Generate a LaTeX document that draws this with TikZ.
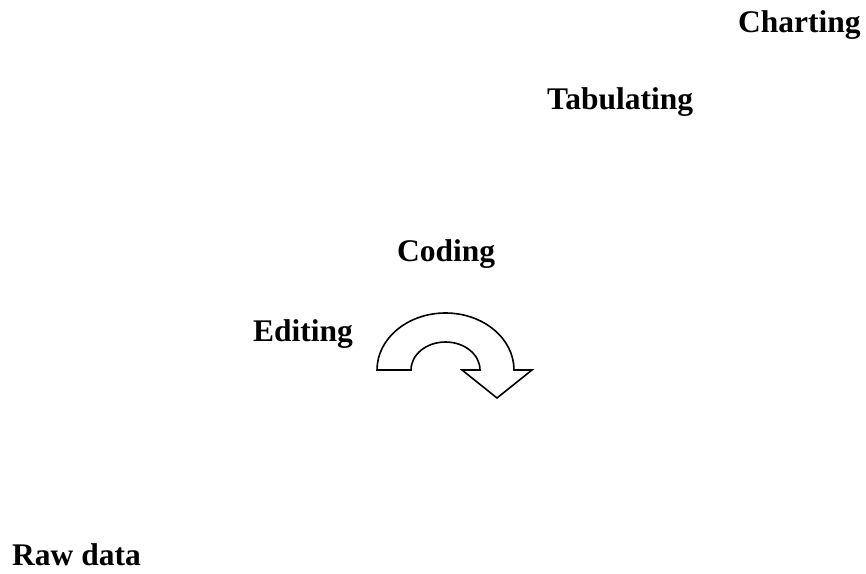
\documentclass[tikz,border=0pt]{standalone}
\usepackage{fontspec}
\setmainfont{Liberation Serif}
\begin{document}
\begin{tikzpicture}[
  lbl/.style={anchor=base west, inner sep=0pt, font=\fontsize{31.5}{36}\selectfont\bfseries},
  turnarrow/.style={draw=black, fill=white, line width=1.6pt, line join=miter}
]
\useasboundingbox (0,0) rectangle (866pt,573pt);
\node[lbl] (charting) at (738pt,540pt) {Charting};
\node[lbl] (tabulating) at (547pt,463pt) {Tabulating};
\node[lbl] (coding) at (397pt,311pt) {Coding};
\node[lbl] (editing) at (253pt,231pt) {Editing};
\node[lbl] (raw) at (12pt,8pt) {Raw data};
\draw[turnarrow] (377pt,203pt) arc[start angle=180, end angle=0, x radius=68.5pt, y radius=57pt]
  -- (532pt,203pt) -- (497pt,175pt) -- (462pt,203pt) -- (480pt,203pt)
  arc[start angle=0, end angle=180, x radius=34.5pt, y radius=28pt] -- cycle;
\end{tikzpicture}
\end{document}
